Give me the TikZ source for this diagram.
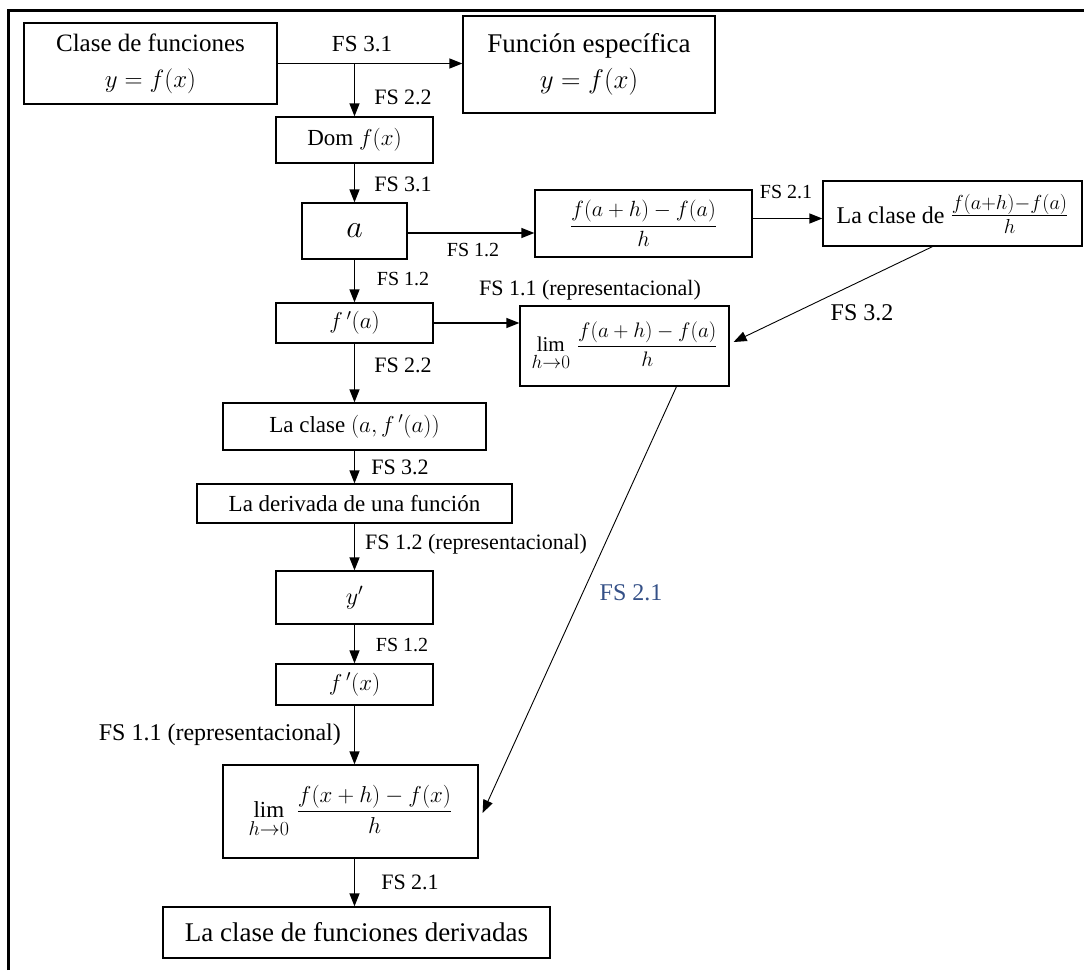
\RequirePackage{fix-cm}
\documentclass[tikz,border=0pt]{standalone}
\usepackage{amsmath}
\usepackage{fontspec}
\setmainfont{Liberation Serif}
\usetikzlibrary{arrows.meta,calc}
\definecolor{fsblue}{RGB}{52,80,135}
\newcommand{\limsub}[1]{\mbox{\fontsize{#1}{#1}\selectfont$h{\to}0$}}
\tikzset{
  box/.style={draw, line width=1.2pt, inner sep=0pt, align=center},
  lbl/.style={inner sep=0pt, font=\fontsize{22}{26}\selectfont},
  arr/.style={line width=1.2pt, -{Triangle[length=13pt,width=10pt]}},
  arrthin/.style={line width=0.9pt, -{Triangle[length=13pt,width=10pt]}}
}
\begin{document}
\begin{tikzpicture}[x=1pt,y=-1pt]
\useasboundingbox (0,0) rectangle (1084,972);
% frame (top and left)
\draw[line width=3pt] (8,970) -- (8,10) -- (1084,10);

% nodes
\node[box, minimum width=253pt, minimum height=81pt, font=\fontsize{25}{36}\selectfont] (c1) at (150.5,63.5) {Clase de funciones\\ $y = f(x)$};
\node[box, minimum width=252pt, minimum height=97pt, font=\fontsize{27}{36}\selectfont] (fe) at (589,64.5) {Función específica\\ $y = f(x)$};
\node[box, minimum width=157pt, minimum height=46pt, font=\fontsize{23}{28}\selectfont] (dom) at (354.5,140) {Dom $f(x)$};
\node[box, minimum width=105pt, minimum height=56pt, font=\fontsize{32}{36}\selectfont] (a) at (354.5,231) {$a$};
\node[box, minimum width=217pt, minimum height=67pt, font=\fontsize{22}{28}\selectfont] (fr) at (643.5,223.5) {$\dfrac{f(a+h)-f(a)}{h}$};
\node[box, minimum width=259pt, minimum height=65pt, font=\fontsize{24}{28}\selectfont] (cd) at (952.5,213.5) {La clase de {\fontsize{29}{30}\selectfont$\frac{f(a+h)-f(a)}{h}$}};
\node[box, minimum width=157pt, minimum height=40pt, font=\fontsize{23}{28}\selectfont] (fpa) at (354.5,323) {$f\,'(a)$};
\node[box, minimum width=209pt, minimum height=80pt, font=\fontsize{21}{26}\selectfont] (la) at (624.5,346) {$\lim\limits_{\limsub{19}}\,\dfrac{f(a+h)-f(a)}{h}$};
\node[box, minimum width=263pt, minimum height=47pt, font=\fontsize{23}{28}\selectfont] (ca) at (354.5,426.5) {La clase $(a, f\,'(a))$};
\node[box, minimum width=315pt, minimum height=39pt, font=\fontsize{23}{28}\selectfont] (der) at (354.5,503.5) {La derivada de una función};
\node[box, minimum width=157pt, minimum height=53pt, font=\fontsize{24}{28}\selectfont] (yp) at (354.5,597.5) {$y'$};
\node[box, minimum width=157pt, minimum height=41pt, font=\fontsize{23}{28}\selectfont] (fpx) at (354.5,684.5) {$f\,'(x)$};
\node[box, minimum width=255pt, minimum height=93pt, font=\fontsize{23}{28}\selectfont] (lx) at (350.5,811.5) {$\lim\limits_{\limsub{20}}\,\dfrac{f(x+h)-f(x)}{h}$};
\node[box, minimum width=387pt, minimum height=51pt, font=\fontsize{27}{32}\selectfont] (last) at (356.5,932.5) {La clase de funciones derivadas};

% connectors
\draw[arr] (c1.east) -- (c1.east -| fe.west);
\draw[arr] (c1.east -| dom.north) -- (dom.north);
\draw[arr] (dom.south) -- (a.north);
\draw[arr] ($(a.east)+(0,2)$) -- ($(a.east -| fr.west)+(0,2)$);
\draw[arr] ($(fr.east)+(0,-5)$) -- ($(fr.east -| cd.west)+(0,-5)$);
\draw[arrthin] ($(cd.south)+(-20,0)$) -- ($(la.east)+(4,-4)$);
\draw[arr] (a.south) -- (fpa.north);
\draw[arr] (fpa.east) -- (fpa.east -| la.west);
\draw[arr] (fpa.south) -- (ca.north);
\draw[arr] (ca.south) -- (der.north);
\draw[arr] (der.south) -- (yp.north);
\draw[arr] (yp.south) -- (fpx.north);
\draw[arr] (fpx.south) -- (fpx.south |- lx.north);
\draw[arr] (fpx.south |- lx.south) -- (last.north -| fpx.south);
\draw[arrthin] ($(la.south)+(52,0)$) -- ($(lx.east)+(4,1.5)$);

% labels
\node[lbl, font=\fontsize{23}{26}\selectfont] (l1) at (362,44) {FS 3.1};
\node[lbl] (l2) at (403,97) {FS 2.2};
\node[lbl] (l3) at (403,184) {FS 3.1};
\node[lbl, font=\fontsize{20}{24}\selectfont] (l4) at (473,250) {FS 1.2};
\node[lbl, font=\fontsize{20}{24}\selectfont] (l5) at (403,279) {FS 1.2};
\node[lbl] (l6) at (590,290) {FS 1.1 (representacional)};
\node[lbl, font=\fontsize{20}{24}\selectfont] (l7) at (786,192) {FS 2.1};
\node[lbl, font=\fontsize{24}{28}\selectfont] (l8) at (862,313) {FS 3.2};
\node[lbl] (l9) at (403,365) {FS 2.2};
\node[lbl] (l10) at (400,467) {FS 3.2};
\node[lbl, anchor=west] (l11) at (365,544) {FS 1.2 (representacional)};
\node[lbl, font=\fontsize{24}{28}\selectfont, text=fsblue] (l12) at (631,593) {FS 2.1};
\node[lbl, font=\fontsize{20}{24}\selectfont] (l13) at (402,645) {FS 1.2};
\node[lbl, anchor=east, font=\fontsize{24}{28}\selectfont] (l14) at (341,735) {FS 1.1 (representacional)};
\node[lbl] (l15) at (410,882) {FS 2.1};
\end{tikzpicture}
\end{document}
